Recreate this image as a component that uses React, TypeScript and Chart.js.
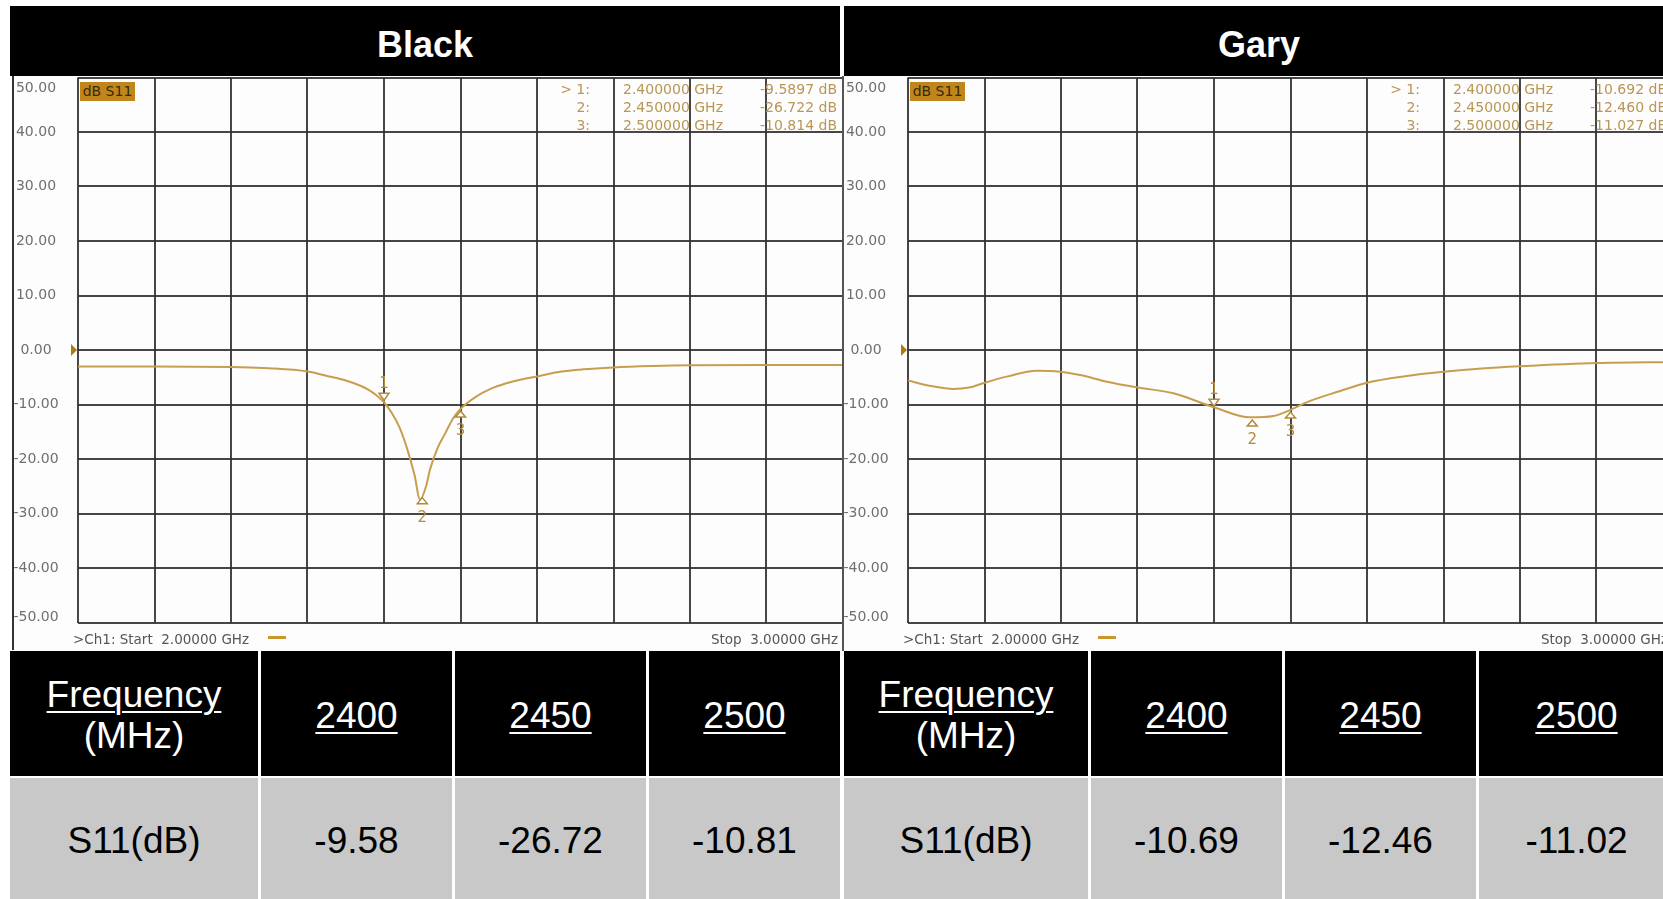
import React, { useEffect, useRef } from 'react';
import { Chart, registerables } from 'chart.js';

Chart.register(...registerables);

// ---------- data ----------
const FREQ_START_GHZ = 2.0;
const FREQ_STOP_GHZ = 3.0;
const FREQ_DIV_GHZ = 0.1;
const DB_MIN = -50;
const DB_MAX = 50;
const DB_DIV = 10;

const panelTitles = ['Black', 'Gary'];

const blackFreqGHz = [2.0, 2.1, 2.2, 2.25, 2.3, 2.33, 2.35, 2.37, 2.38, 2.39, 2.4, 2.41, 2.42, 2.43, 2.44, 2.447, 2.455, 2.46, 2.47, 2.48, 2.49, 2.5, 2.52, 2.54, 2.56, 2.58, 2.6, 2.63, 2.66, 2.7, 2.75, 2.8, 2.9, 3.0];
const blackS11dB = [-3.05, -3.05, -3.1, -3.35, -3.95, -4.9, -5.6, -6.6, -7.3, -8.3, -9.59, -11.5, -14.1, -18.0, -23.0, -27.5, -25.0, -22.0, -18.0, -15.3, -12.6, -10.81, -8.6, -7.1, -6.1, -5.4, -4.85, -4.0, -3.55, -3.2, -2.95, -2.8, -2.75, -2.75];

const garyFreqGHz = [2.0, 2.03, 2.059, 2.08, 2.098, 2.129, 2.168, 2.199, 2.225, 2.26, 2.299, 2.347, 2.4, 2.447, 2.478, 2.5, 2.521, 2.565, 2.6, 2.65, 2.7, 2.75, 2.8, 2.9, 3.0];
const garyS11dB = [-5.6, -6.6, -7.16, -6.9, -6.1, -4.89, -3.79, -3.97, -4.59, -5.81, -6.85, -7.95, -10.5, -12.36, -12.1, -11.0, -9.6, -7.52, -6.0, -4.8, -4.0, -3.4, -3.0, -2.4, -2.2];

const markerFreqGHz = [2.4, 2.45, 2.5];
const blackMarkerdB = [-9.5897, -26.722, -10.814];
const garyMarkerdB = [-10.692, -12.46, -11.027];

const tableFreqMHz = ['2400', '2450', '2500'];
const blackTableS11 = ['-9.58', '-26.72', '-10.81'];
const garyTableS11 = ['-10.69', '-12.46', '-11.02'];

// ---------- style ----------
const TRACE = '#c79e4f';
const MARKER = '#b38a3c';
const READOUT = '#b99652';
const GRID = 'rgba(50,50,50,0.9)';
const LABEL = '#6f6f6f';
const INSTR_FONT = '"DejaVu Sans", sans-serif';

const CANVAS_W = 833;
const CANVAS_H = 575;

const overlayPlugin = {
  id: 'instrOverlay',
  afterDatasetsDraw(chart: any, _args: any, opts: any) {
    const { ctx, chartArea, scales } = chart;
    const ys = scales.y;
    const xs = scales.x;
    ctx.save();
    // y labels
    ctx.font = '14px ' + INSTR_FONT;
    ctx.fillStyle = LABEL;
    ctx.textAlign = 'center';
    ctx.textBaseline = 'middle';
    ys.ticks.forEach((t: any) => {
      let py = ys.getPixelForValue(t.value);
      py = Math.max(chartArea.top + 10.5, Math.min(chartArea.bottom - 5, py));
      ctx.fillText(Number(t.value).toFixed(2), chartArea.left - 42, py);
    });
    // reference level arrow
    const y0 = ys.getPixelForValue(0);
    ctx.fillStyle = '#b07a12';
    ctx.beginPath();
    ctx.moveTo(chartArea.left - 7, y0 - 6);
    ctx.lineTo(chartArea.left - 1, y0);
    ctx.lineTo(chartArea.left - 7, y0 + 6);
    ctx.closePath();
    ctx.fill();
    // markers
    const vals: number[] = opts.markerVals;
    ctx.strokeStyle = MARKER;
    ctx.lineWidth = 1.5;
    markerFreqGHz.forEach((f, i) => {
      const px = xs.getPixelForValue(f);
      const py = ys.getPixelForValue(vals[i]);
      ctx.beginPath();
      if (i === 0) {
        ctx.moveTo(px, py - 2);
        ctx.lineTo(px - 5, py - 9);
        ctx.lineTo(px + 5, py - 9);
      } else {
        ctx.moveTo(px, py + 2);
        ctx.lineTo(px - 5, py + 8);
        ctx.lineTo(px + 5, py + 8);
      }
      ctx.closePath();
      ctx.fillStyle = '#ffffff';
      ctx.fill();
      ctx.stroke();
      ctx.fillStyle = MARKER;
      ctx.font = '15px ' + INSTR_FONT;
      ctx.fillText(String(i + 1), px, i === 0 ? py - 18 : py + 22);
    });
    ctx.restore();
  },
};

function S11Chart({ freqs, values, markerVals }: { freqs: number[]; values: number[]; markerVals: number[] }) {
  const ref = useRef<HTMLCanvasElement>(null);
  useEffect(() => {
    const chart = new Chart(ref.current as HTMLCanvasElement, {
      type: 'line',
      data: {
        datasets: [
          {
            data: freqs.map((f, i) => ({ x: f, y: values[i] })),
            borderColor: TRACE,
            borderWidth: 2,
            pointRadius: 0,
            cubicInterpolationMode: 'monotone',
            fill: false,
          },
        ],
      },
      options: {
        animation: false,
        responsive: false,
        events: [],
        layout: { padding: { top: 1.5, right: 2, bottom: 0, left: 0 } },
        plugins: {
          legend: { display: false },
          tooltip: { enabled: false },
          instrOverlay: { markerVals },
        } as any,
        scales: {
          x: {
            type: 'linear',
            min: FREQ_START_GHZ,
            max: FREQ_STOP_GHZ,
            ticks: { stepSize: FREQ_DIV_GHZ, display: false },
            grid: { color: GRID, lineWidth: 2, drawTicks: false },
            border: { display: false },
            afterFit: (s: any) => {
              s.height = 28.5;
            },
          },
          y: {
            type: 'linear',
            min: DB_MIN,
            max: DB_MAX,
            ticks: { stepSize: DB_DIV, display: false },
            grid: { color: GRID, lineWidth: 2, drawTicks: false },
            border: { display: false },
            afterFit: (s: any) => {
              s.width = 66;
            },
          },
        },
      },
      plugins: [overlayPlugin],
    } as any);
    return () => chart.destroy();
  }, []);
  return <canvas ref={ref} width={CANVAS_W} height={CANVAS_H} style={{ display: 'block', width: CANVAS_W, height: CANVAS_H }} />;
}

function Panel({ ox, title, freqs, values, markerVals, tableVals, hl, hr }: any) {
  const rowTops = [80, 98, 116];
  const colEdges = [[hl, ox + 258], [ox + 261, ox + 452], [ox + 455, ox + 646], [ox + 649, hr]];
  const cellText: React.CSSProperties = { fontFamily: '"Liberation Sans", Arial, sans-serif', fontSize: 37 };
  return (
    <>
      <div style={{ position: 'absolute', left: hl, top: 6, width: hr - hl, height: 70, background: '#000', color: '#fff', display: 'flex', alignItems: 'center', justifyContent: 'center', fontFamily: '"Liberation Sans", Arial, sans-serif', fontWeight: 700, fontSize: 36, paddingTop: 8, boxSizing: 'border-box' }}>
        {title}
      </div>
      <div style={{ position: 'absolute', left: ox + 12, top: 76, width: CANVAS_W, height: CANVAS_H, background: '#fdfdfd' }}>
        <S11Chart freqs={freqs} values={values} markerVals={markerVals} />
      </div>
      <div style={{ position: 'absolute', left: ox + 80, top: 82, width: 55, height: 19, background: '#c0861c', color: '#3a2806', fontFamily: INSTR_FONT, fontSize: 14, lineHeight: '19px', textAlign: 'center' }}>dB S11</div>
      {markerFreqGHz.map((f, i) => (
        <React.Fragment key={i}>
          <div style={{ position: 'absolute', left: ox + 530, top: rowTops[i], width: 60, textAlign: 'right', color: READOUT, fontFamily: INSTR_FONT, fontSize: 14, lineHeight: '18px', whiteSpace: 'pre' }}>{(i === 0 ? '> ' : '') + (i + 1) + ':'}</div>
          <div style={{ position: 'absolute', left: ox + 623, top: rowTops[i], color: READOUT, fontFamily: INSTR_FONT, fontSize: 14, lineHeight: '18px', whiteSpace: 'pre' }}>{f.toFixed(6) + ' GHz'}</div>
          <div style={{ position: 'absolute', left: ox + 717, top: rowTops[i], width: 120, textAlign: 'right', color: READOUT, fontFamily: INSTR_FONT, fontSize: 14, lineHeight: '18px', whiteSpace: 'pre' }}>{markerVals[i].toFixed(markerVals[i] > -10 ? 4 : 3) + ' dB'}</div>
        </React.Fragment>
      ))}
      <div style={{ position: 'absolute', left: ox + 73, top: 630, color: '#555', fontFamily: INSTR_FONT, fontSize: 13.5, lineHeight: '18px', whiteSpace: 'pre' }}>{'>Ch1: Start  ' + FREQ_START_GHZ.toFixed(5) + ' GHz'}</div>
      <div style={{ position: 'absolute', left: ox + 268, top: 636, width: 18, height: 3, background: '#c8962a' }} />
      <div style={{ position: 'absolute', left: ox + 638, top: 630, width: 200, textAlign: 'right', color: '#555', fontFamily: INSTR_FONT, fontSize: 13.5, lineHeight: '18px', whiteSpace: 'pre' }}>{'Stop  ' + FREQ_STOP_GHZ.toFixed(5) + ' GHz'}</div>
      <div style={{ position: 'absolute', left: ox + 12, top: 76, width: 2, height: 574, background: '#333' }} />
      {colEdges.map(([a, b], i) => (
        <React.Fragment key={'c' + i}>
          <div style={{ ...cellText, position: 'absolute', left: a, top: 651, width: b - a, height: 125, background: '#000', color: '#fff', display: 'flex', flexDirection: 'column', alignItems: 'center', justifyContent: 'center', lineHeight: '41px', paddingTop: 3, boxSizing: 'border-box' }}>
            {i === 0 ? (
              <>
                <span style={{ textDecoration: 'underline', textUnderlineOffset: 4, textDecorationThickness: 2 }}>Frequency</span>
                <span>(MHz)</span>
              </>
            ) : (
              <span style={{ textDecoration: 'underline', textUnderlineOffset: 4, textDecorationThickness: 2 }}>{tableFreqMHz[i - 1]}</span>
            )}
          </div>
          <div style={{ ...cellText, position: 'absolute', left: a, top: 778, width: b - a, height: 126, background: '#c8c8c8', color: '#000', display: 'flex', alignItems: 'center', justifyContent: 'center' }}>
            {i === 0 ? 'S11(dB)' : tableVals[i - 1]}
          </div>
        </React.Fragment>
      ))}
    </>
  );
}

export default function App() {
  return (
    <div style={{ position: 'absolute', left: 0, top: 0, width: 1663, height: 899, overflow: 'hidden', background: '#fff' }}>
      <Panel ox={0} hl={10} hr={840} title={panelTitles[0]} freqs={blackFreqGHz} values={blackS11dB} markerVals={blackMarkerdB} tableVals={blackTableS11} />
      <Panel ox={830} hl={844} hr={1674} title={panelTitles[1]} freqs={garyFreqGHz} values={garyS11dB} markerVals={garyMarkerdB} tableVals={garyTableS11} />
      <div style={{ position: 'absolute', left: 842, top: 76, width: 2, height: 575, background: '#555' }} />
    </div>
  );
}
